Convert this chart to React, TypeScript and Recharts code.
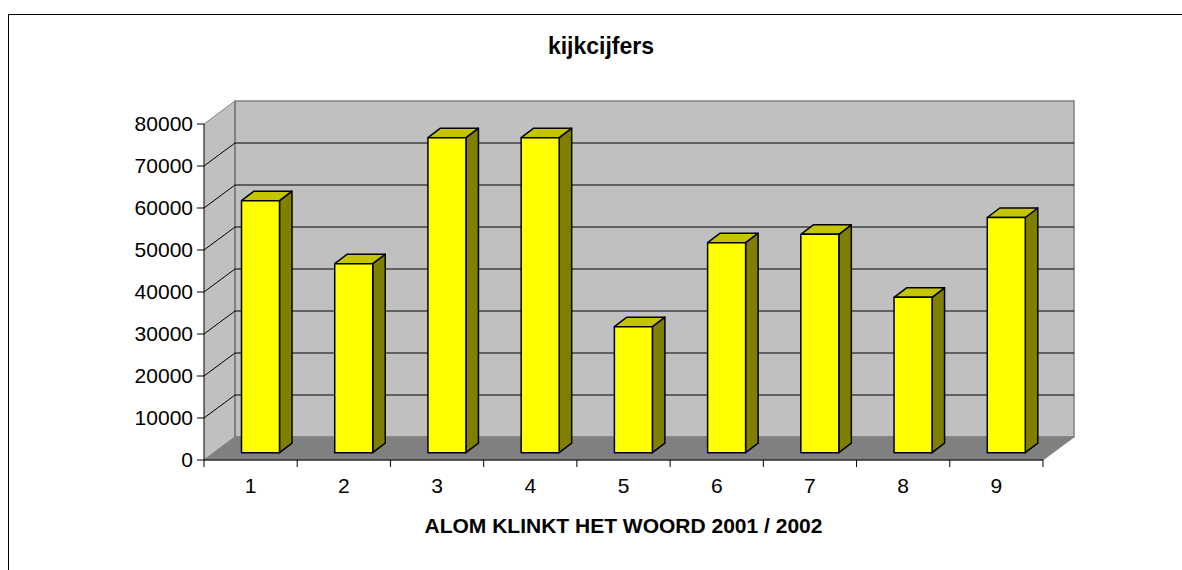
import React from "react";
import { BarChart, Bar, XAxis, YAxis, CartesianGrid } from "recharts";

// kijkcijfers per aflevering, "Alom klinkt het woord" 2001/2002
const afleveringen = ["1", "2", "3", "4", "5", "6", "7", "8", "9"];
const kijkers = [60000, 45000, 75000, 75000, 30000, 50000, 52000, 37000, 56000];
const yTicks = [0, 10000, 20000, 30000, 40000, 50000, 60000, 70000, 80000];

const data = afleveringen.map((a, i) => ({ aflevering: a, kijkers: kijkers[i] }));

const W = 1182;
const H = 570;
const FONT = '"Liberation Sans", Arial, sans-serif';

// front plane of the 3d box
const PLOT_LEFT = 204;
const PLOT_TOP = 124;
const PLOT_RIGHT = 1043;
const PLOT_BOTTOM = 460;
const Y_AXIS_W = 60;
const X_AXIS_H = 40;

// depth of the walls
const DX = 31;
const DY = -23;
// bars sit a bit into the box, and have their own depth
const BAR_SHIFT_X = 9.5;
const BAR_SHIFT_Y = -7.3;
const BAR_DX = 12.5;
const BAR_DY = -9.5;

const TICK_SIZE = 7;
const X_TICK_MARGIN = 11;
const BAND = (PLOT_RIGHT - PLOT_LEFT) / afleveringen.length;

function Bar3D(props: any) {
  const { x, y, width, height } = props;
  if (height == null || height <= 0) return null;
  const fx = x + BAR_SHIFT_X;
  const fy = y + BAR_SHIFT_Y;
  const r = fx + width;
  const b = fy + height;
  return (
    <g stroke="#000" strokeWidth={1.5} strokeLinejoin="round">
      <polygon
        points={`${r},${fy} ${r + BAR_DX},${fy + BAR_DY} ${r + BAR_DX},${b + BAR_DY} ${r},${b}`}
        fill="#808000"
      />
      <polygon
        points={`${fx},${fy} ${fx + BAR_DX},${fy + BAR_DY} ${r + BAR_DX},${fy + BAR_DY} ${r},${fy}`}
        fill="#C4C400"
      />
      <rect x={fx} y={fy} width={width} height={height} fill="#FFFF00" />
    </g>
  );
}

function gridLine(p: any) {
  const { x1, y1, x2 } = p;
  const edge = Math.abs(y1 - PLOT_TOP) < 1 || Math.abs(y1 - PLOT_BOTTOM) < 1;
  return (
    <g key={p.key ?? `g-${y1}`}>
      <line
        x1={x1}
        y1={y1}
        x2={x1 + DX}
        y2={y1 + DY}
        stroke={edge ? "#808080" : "#000"}
        strokeWidth={1}
      />
      {!edge && (
        <line x1={x1 + DX} y1={y1 + DY} x2={x2 + DX} y2={y1 + DY} stroke="#000" strokeWidth={1} />
      )}
    </g>
  );
}

function XTick(props: any) {
  const { x, y, payload } = props;
  const index = props.index ?? payload?.index ?? 0;
  const half = BAND / 2;
  const axisY = y - TICK_SIZE - X_TICK_MARGIN;
  return (
    <g>
      <line x1={x - half} y1={axisY} x2={x - half} y2={axisY + TICK_SIZE} stroke="#000" />
      {index === afleveringen.length - 1 && (
        <line x1={x + half} y1={axisY} x2={x + half} y2={axisY + TICK_SIZE} stroke="#000" />
      )}
      <text x={x} y={y} dy="0.71em" textAnchor="middle" fontSize={21} fill="#000">
        {payload.value}
      </text>
    </g>
  );
}

function Walls() {
  const bl = PLOT_LEFT + DX;
  const bt = PLOT_TOP + DY;
  const br = PLOT_RIGHT + DX;
  const bb = PLOT_BOTTOM + DY;
  return (
    <svg width={W} height={H} style={{ position: "absolute", left: 0, top: 0 }}>
      <polygon
        points={`${PLOT_LEFT},${PLOT_BOTTOM} ${PLOT_LEFT},${PLOT_TOP} ${bl},${bt} ${bl},${bb}`}
        fill="#C0C0C0"
      />
      <rect x={bl} y={bt} width={br - bl} height={bb - bt} fill="#C0C0C0" stroke="#808080" strokeWidth={1.5} />
      <polygon
        points={`${PLOT_LEFT},${PLOT_BOTTOM} ${bl},${bb} ${br},${bb} ${PLOT_RIGHT},${PLOT_BOTTOM}`}
        fill="#808080"
        stroke="#808080"
      />
      <line x1={bl} y1={bt} x2={bl} y2={bb} stroke="#808080" strokeWidth={2} />
      <text
        x={601}
        y={54}
        textAnchor="middle"
        fontSize={23}
        fontWeight="bold"
        fill="#000"
        fontFamily={FONT}
      >
        kijkcijfers
      </text>
    </svg>
  );
}

export default function App() {
  return (
    <div
      style={{
        position: "relative",
        width: W,
        height: H,
        overflow: "hidden",
        background: "#fff",
        fontFamily: FONT,
      }}
    >
      <style>{"body{margin:0;overflow:hidden}"}</style>
      <div
        style={{
          position: "absolute",
          left: 8,
          top: 14,
          width: 1300,
          height: 700,
          border: "1px solid #000",
          boxSizing: "border-box",
        }}
      />
      <Walls />
      <div style={{ position: "absolute", left: 0, top: 0 }}>
        <BarChart
          width={W}
          height={H}
          data={data}
          margin={{
            top: PLOT_TOP,
            left: PLOT_LEFT - Y_AXIS_W,
            right: W - PLOT_RIGHT,
            bottom: H - PLOT_BOTTOM - X_AXIS_H,
          }}
        >
          <CartesianGrid vertical={false} horizontal={gridLine} />
          <YAxis
            type="number"
            domain={[0, 80000]}
            ticks={yTicks}
            interval={0}
            width={Y_AXIS_W}
            tickSize={TICK_SIZE}
            tickMargin={4}
            axisLine={{ stroke: "#000" }}
            tickLine={{ stroke: "#000" }}
            tick={{ fill: "#000", fontSize: 21 }}
          />
          <XAxis
            dataKey="aflevering"
            type="category"
            interval={0}
            height={X_AXIS_H}
            tickSize={TICK_SIZE}
            tickMargin={X_TICK_MARGIN}
            tickLine={false}
            axisLine={{ stroke: "#000" }}
            tick={<XTick />}
            label={{
              value: "ALOM KLINKT HET WOORD 2001 / 2002",
              position: "bottom",
              offset: 18,
              fill: "#000",
              fontSize: 21,
              fontWeight: "bold",
            }}
          />
          <Bar
            dataKey="kijkers"
            barSize={38}
            fill="#FFFF00"
            shape={<Bar3D />}
            isAnimationActive={false}
          />
        </BarChart>
      </div>
    </div>
  );
}
